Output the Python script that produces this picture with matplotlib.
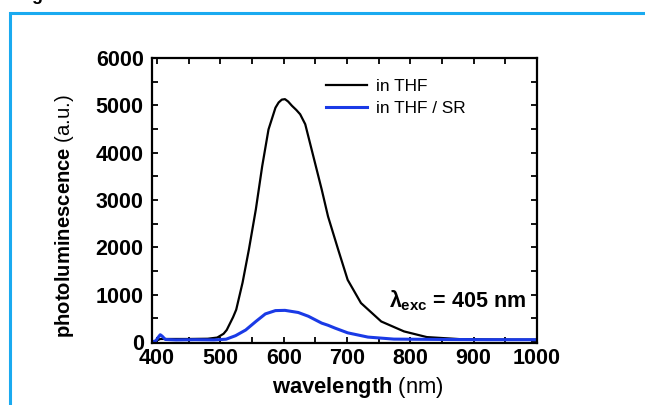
import matplotlib
matplotlib.use("Agg")
import matplotlib.pyplot as plt
from matplotlib.patches import Rectangle
from matplotlib.ticker import MultipleLocator

plt.rcParams['font.family'] = ['Liberation Sans', 'DejaVu Sans']
plt.rcParams['mathtext.fontset'] = 'custom'
plt.rcParams['mathtext.rm'] = 'Liberation Sans'
plt.rcParams['mathtext.bf'] = 'Liberation Sans:bold'
plt.rcParams['mathtext.it'] = 'Liberation Sans:bold'

# data
wl_thf = [392, 400, 405, 420, 450, 480, 495, 505, 510, 520, 525, 535, 545, 556, 566,
          576, 587, 592, 597, 602, 607, 613, 620, 626, 634, 644, 660, 670, 686, 701,
          722, 754, 790, 826, 878, 920, 960, 1000]
pl_thf = [0, 30, 60, 60, 60, 65, 90, 170, 250, 520, 680, 1250, 1950, 2800, 3710,
          4490, 4950, 5060, 5120, 5130, 5080, 4990, 4900, 4810, 4600, 4070, 3220, 2650, 1950, 1310,
          820, 430, 220, 100, 57, 50, 45, 45]

wl_sr = [392, 398, 402, 405, 408, 413, 430, 460, 490, 509, 524, 540, 556, 571, 587,
         602, 623, 639, 660, 670, 681, 701, 733, 774, 850, 920, 1000]
pl_sr = [0, 20, 100, 150, 120, 50, 40, 45, 40, 55, 130, 250, 430, 590, 660,
         665, 620, 540, 395, 350, 290, 190, 100, 57, 50, 45, 45]

labels = ['in THF', 'in THF / SR']
x_ticks = [400, 500, 600, 700, 800, 900, 1000]
y_ticks = [0, 1000, 2000, 3000, 4000, 5000, 6000]

fig = plt.figure(figsize=(6.45, 4.05), dpi=100)
# blue frame
fig.patches.append(Rectangle((10/645, -0.1), 1.2, 1 - 13/405 + 0.1,
                             transform=fig.transFigure, fill=False,
                             edgecolor='#1aaaf0', linewidth=2.2))
fig.text(31/645, 1 + 13/405, 'g', fontsize=13, fontweight='bold', va='top', ha='left')

ax = fig.add_axes([152/645, 1 - 343/405, (537 - 152)/645, (343 - 58)/405])
ax.plot(wl_thf, pl_thf, color='black', lw=1.6, label=labels[0])
ax.plot(wl_sr, pl_sr, color='#1a3ae6', lw=2.2, label=labels[1])

ax.set_xlim(392, 1000)
ax.set_ylim(-25, 6000)
ax.set_xticks(x_ticks)
ax.set_yticks(y_ticks)
ax.xaxis.set_minor_locator(MultipleLocator(50))
ax.yaxis.set_minor_locator(MultipleLocator(500))
ax.tick_params(which='both', direction='in', top=True, right=True, width=1.3)
ax.tick_params(which='major', length=4.5, labelsize=15.5)
ax.tick_params(which='minor', length=4.5)
ax.tick_params(axis='x', which='major', pad=3.5)
ax.tick_params(axis='y', which='major', pad=6)
for lab in ax.get_xticklabels() + ax.get_yticklabels():
    lab.set_fontweight('bold')
for s in ax.spines.values():
    s.set_linewidth(1.6)

ax.set_ylabel(r'$\mathbf{photoluminescence}$ (a.u.)', fontsize=14.6)
ax.yaxis.set_label_coords((64 - 152)/385, (343 - 216.5)/285)
ax.set_xlabel(r'$\mathbf{wavelength}$ (nm)', fontsize=15.8)
ax.xaxis.set_label_coords((357.5 - 152)/385, -(388 - 343)/285)
ax.xaxis.label.set_va('center')
ax.yaxis.label.set_va('center')

leg = ax.legend(loc='upper left', bbox_to_anchor=((326 - 152)/385, 1 - (79 - 58)/285),
                frameon=False, fontsize=12.4, handlelength=2.4, handletextpad=0.5,
                labelspacing=0.42, borderaxespad=0, borderpad=0)

ax.text((526 - 152)/385, (343 - 301)/285, r'$\lambda_{exc}$ = 405 nm', transform=ax.transAxes,
        ha='right', va='center', fontsize=15.5, fontweight='bold')

fig.savefig('out.png', dpi=100)
